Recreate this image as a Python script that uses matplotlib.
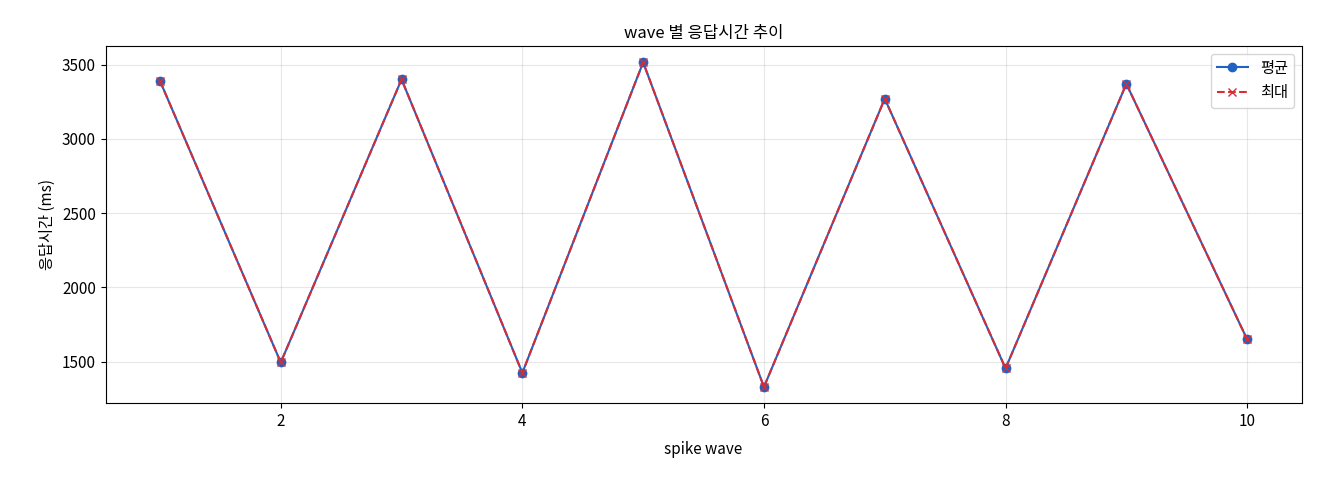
import matplotlib
matplotlib.use("Agg")
import matplotlib.pyplot as plt

plt.rcParams['font.family'] = ['Noto Sans CJK KR', 'DejaVu Sans']
plt.rcParams['font.size'] = 11

waves = [1, 2, 3, 4, 5, 6, 7, 8, 9, 10]
avg_ms = [3390, 1495, 3400, 1425, 3515, 1330, 3270, 1455, 3370, 1650]
max_ms = [3390, 1495, 3400, 1425, 3515, 1330, 3270, 1455, 3370, 1650]

fig, ax = plt.subplots(figsize=(13.2, 4.8), dpi=100)
fig.subplots_adjust(left=0.08, right=0.986, top=0.904, bottom=0.16)
ax.plot(waves, avg_ms, marker='o', color='#1f62c4', label='평균', markersize=6)
ax.plot(waves, max_ms, marker='x', linestyle='--', color='#d62d36', label='최대', markersize=6)
ax.set_title('wave 별 응답시간 추이', fontsize=12)
ax.set_xlabel('spike wave', labelpad=8)
ax.set_ylabel('응답시간 (ms)')
ax.set_yticks([1500, 2000, 2500, 3000, 3500])
ax.grid(True, alpha=0.3)
ax.legend(loc='upper right')
fig.savefig('out.png')
